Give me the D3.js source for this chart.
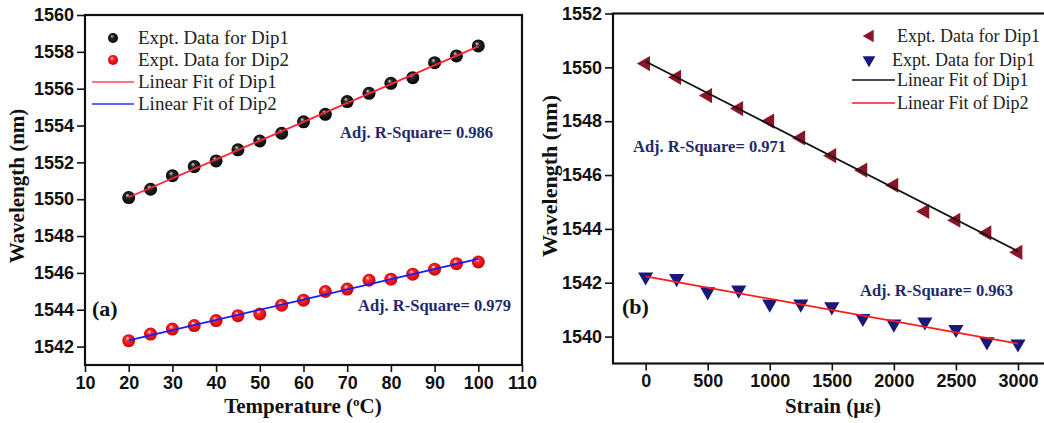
<!DOCTYPE html>
<html>
<head>
<meta charset="utf-8">
<script src="https://cdn.jsdelivr.net/npm/d3@7"></script>
<style>
  body { margin: 0; background: #fff; }
  svg { display: block; }
  .tick text { font-family: "Liberation Sans", Arial, sans-serif; font-weight: bold; font-size: 18px; fill: #111; }
  .tick line { stroke: #111; stroke-width: 1.6; }
  .domain { stroke: none; }
  .serif { font-family: "Liberation Serif", "Times New Roman", serif; }
</style>
</head>
<body>
<div id="canvas"></div>
<script>
// ---- data ----
// panel (a): temperature sweep
var temps = [20, 25, 30, 35, 40, 45, 50, 55, 60, 65, 70, 75, 80, 85, 90, 95, 100];
var tempDip1 = [1550.09, 1550.54, 1551.28, 1551.77, 1552.08, 1552.68, 1553.16, 1553.58, 1554.2, 1554.61,
                1555.3, 1555.75, 1556.29, 1556.6, 1557.41, 1557.78, 1558.32];
var tempDip2 = [1542.32, 1542.68, 1542.95, 1543.14, 1543.41, 1543.68, 1543.77, 1544.25, 1544.52, 1544.99,
                1545.12, 1545.6, 1545.66, 1545.93, 1546.2, 1546.5, 1546.59];
var tempXTicks = [10, 20, 30, 40, 50, 60, 70, 80, 90, 100, 110];
var tempYTicks = [1542, 1544, 1546, 1548, 1550, 1552, 1554, 1556, 1558, 1560];

// panel (b): strain sweep
var strains = [0, 250, 500, 750, 1000, 1250, 1500, 1750, 2000, 2250, 2500, 2750, 3000];
var strainDip1 = [1550.14, 1549.63, 1548.95, 1548.47, 1548.0, 1547.38, 1546.72, 1546.18, 1545.62,
                  1544.65, 1544.32, 1543.85, 1543.13];
var strainDip2 = [1542.22, 1542.16, 1541.67, 1541.73, 1541.21, 1541.21, 1541.11, 1540.68, 1540.47,
                  1540.55, 1540.27, 1539.81, 1539.73];
var strainXTicks = [0, 500, 1000, 1500, 2000, 2500, 3000];
var strainYTicks = [1540, 1542, 1544, 1546, 1548, 1550, 1552];

var W = 1044, H = 423;

var svg = d3.select('#canvas').append('svg')
    .attr('width', W).attr('height', H);

// sphere gradients for the ball markers
var defs = svg.append('defs');
function ballGrad(id, light, mid, dark) {
    var g = defs.append('radialGradient').attr('id', id)
        .attr('cx', '50%').attr('cy', '50%').attr('r', '55%')
        .attr('fx', '38%').attr('fy', '30%');
    g.append('stop').attr('offset', '0%').attr('stop-color', light);
    g.append('stop').attr('offset', '30%').attr('stop-color', mid);
    g.append('stop').attr('offset', '100%').attr('stop-color', dark);
}
ballGrad('ballBlack', '#e0e0e0', '#2a2a2a', '#000');
ballGrad('ballRed', '#fff0f0', '#ff2a2a', '#c00000');

// simple least squares, used for the "Linear Fit" lines
function linFit(xs, ys) {
    var n = xs.length, mx = d3.mean(xs), my = d3.mean(ys);
    var sxy = 0, sxx = 0;
    for (var i = 0; i < n; i++) { sxy += (xs[i] - mx) * (ys[i] - my); sxx += (xs[i] - mx) * (xs[i] - mx); }
    var b = sxy / sxx, a = my - b * mx;
    return function(x) { return a + b * x; };
}

function frame(g, x, y) {
    var x0 = x.range()[0], x1 = x.range()[1], y0 = y.range()[0], y1 = y.range()[1];
    g.append('rect')
        .attr('x', x0).attr('y', y1).attr('width', x1 - x0).attr('height', y0 - y1)
        .attr('fill', 'none').attr('stroke', '#111').attr('stroke-width', 2.2);
}

function axes(g, x, y, xt, yt) {
    g.append('g').attr('transform', 'translate(0,' + y.range()[0] + ')')
        .call(d3.axisBottom(x).tickValues(xt).tickFormat(d3.format('d'))
            .tickSize(7).tickPadding(4).tickSizeOuter(0));
    g.append('g').attr('transform', 'translate(' + x.range()[0] + ',0)')
        .call(d3.axisLeft(y).tickValues(yt).tickFormat(d3.format('d'))
            .tickSize(8).tickPadding(3).tickSizeOuter(0));
}

function label(g, txt, px, py, size, weight, color) {
    return g.append('text').attr('class', 'serif')
        .attr('x', px).attr('y', py)
        .style('font-size', size + 'px').style('font-weight', weight)
        .style('fill', color).text(txt);
}

// ================= panel (a) =================
var xA = d3.scaleLinear().domain([10, 110]).range([85, 522]);
var yA = d3.scaleLinear().domain([1541, 1560]).range([365, 15]);
var gA = svg.append('g');

axes(gA, xA, yA, tempXTicks, tempYTicks);

var fitA1 = linFit(temps, tempDip1), fitA2 = linFit(temps, tempDip2);
var lineA = d3.line().x(function(d){ return xA(d[0]); }).y(function(d){ return yA(d[1]); });
var ends = [temps[0], temps[temps.length - 1]];

gA.selectAll('.ball1').data(temps).enter().append('circle')
    .attr('cx', function(d){ return xA(d); })
    .attr('cy', function(d, i){ return yA(tempDip1[i]); })
    .attr('r', 6.5).attr('fill', 'url(#ballBlack)');
gA.selectAll('.ball2').data(temps).enter().append('circle')
    .attr('cx', function(d){ return xA(d); })
    .attr('cy', function(d, i){ return yA(tempDip2[i]); })
    .attr('r', 6.5).attr('fill', 'url(#ballRed)');

gA.append('path').datum(ends.map(function(t){ return [t, fitA1(t)]; }))
    .attr('d', lineA).attr('stroke', '#ff2438').attr('stroke-width', 1.8).attr('fill', 'none');
gA.append('path').datum(ends.map(function(t){ return [t, fitA2(t)]; }))
    .attr('d', lineA).attr('stroke', '#1a1aff').attr('stroke-width', 1.8).attr('fill', 'none');

frame(gA, xA, yA);

// legend (a)
gA.append('circle').attr('cx', 113).attr('cy', 38).attr('r', 5).attr('fill', 'url(#ballBlack)');
gA.append('circle').attr('cx', 113).attr('cy', 60).attr('r', 5).attr('fill', 'url(#ballRed)');
gA.append('line').attr('x1', 92).attr('x2', 134).attr('y1', 82).attr('y2', 82)
    .attr('stroke', '#ff4a5a').attr('stroke-width', 1.6);
gA.append('line').attr('x1', 92).attr('x2', 134).attr('y1', 104).attr('y2', 104)
    .attr('stroke', '#3030ff').attr('stroke-width', 1.6);
label(gA, 'Expt. Data for Dip1', 138, 44, 19, 'normal', '#222');
label(gA, 'Expt. Data for Dip2', 138, 66, 19, 'normal', '#222');
label(gA, 'Linear Fit of Dip1', 138, 88, 19, 'normal', '#222');
label(gA, 'Linear Fit of Dip2', 138, 110, 19, 'normal', '#222');

label(gA, 'Adj. R-Square= 0.986', 340, 138, 16.5, 'bold', '#1f2a6b');
label(gA, 'Adj. R-Square= 0.979', 358, 311, 16.5, 'bold', '#1f2a6b');
label(gA, '(a)', 92, 316, 22, 'bold', '#111');

// axis titles (a)
var tA = label(gA, 'Temperature (', 303, 413, 21, 'bold', '#111').attr('text-anchor', 'middle');
tA.append('tspan').attr('baseline-shift', 'super').style('font-size', '13px').text('o');
tA.append('tspan').text('C)');
label(gA, 'Wavelength (nm)', 0, 0, 21, 'bold', '#111')
    .attr('text-anchor', 'middle')
    .attr('transform', 'translate(24,186) rotate(-90)');

// ================= panel (b) =================
var xB = d3.scaleLinear().domain([-263, 3250]).range([613, 1049]);
var yB = d3.scaleLinear().domain([1539, 1552]).range([363.5, 13.5]);
var gB = svg.append('g');

axes(gB, xB, yB, strainXTicks, strainYTicks);

var fitB1 = linFit(strains, strainDip1), fitB2 = linFit(strains, strainDip2);
var lineB = d3.line().x(function(d){ return xB(d[0]); }).y(function(d){ return yB(d[1]); });
var endsB = [strains[0], strains[strains.length - 1]];

var triMark = d3.symbol().type(d3.symbolTriangle).size(100);
gB.selectAll('.tri1').data(strains).enter().append('path')
    .attr('d', triMark)
    .attr('transform', function(d, i){ return 'translate(' + xB(d) + ',' + yB(strainDip1[i]) + ') rotate(-90)'; })
    .attr('fill', '#8a1526');
gB.selectAll('.tri2').data(strains).enter().append('path')
    .attr('d', triMark)
    .attr('transform', function(d, i){ return 'translate(' + xB(d) + ',' + yB(strainDip2[i]) + ') rotate(180)'; })
    .attr('fill', '#18187a');

gB.append('path').datum(endsB.map(function(s){ return [s, fitB1(s)]; }))
    .attr('d', lineB).attr('stroke', '#111').attr('stroke-width', 1.8).attr('fill', 'none');
gB.append('path').datum(endsB.map(function(s){ return [s, fitB2(s)]; }))
    .attr('d', lineB).attr('stroke', '#ff1a1a').attr('stroke-width', 1.8).attr('fill', 'none');

frame(gB, xB, yB);

// legend (b)
var triLeg = d3.symbol().type(d3.symbolTriangle).size(70);
gB.append('path').attr('d', triLeg).attr('transform', 'translate(870,36) rotate(-90)').attr('fill', '#8a1526');
gB.append('path').attr('d', triLeg).attr('transform', 'translate(869,60) rotate(180)').attr('fill', '#18187a');
gB.append('line').attr('x1', 852).attr('x2', 895).attr('y1', 80).attr('y2', 80)
    .attr('stroke', '#111').attr('stroke-width', 1.6);
gB.append('line').attr('x1', 852).attr('x2', 895).attr('y1', 103).attr('y2', 103)
    .attr('stroke', '#ff1a1a').attr('stroke-width', 1.6);
label(gB, 'Expt. Data for Dip1', 897, 42, 18, 'normal', '#222');
label(gB, 'Expt. Data for Dip1', 892, 66, 18, 'normal', '#222');
label(gB, 'Linear Fit of Dip1', 897, 86, 18, 'normal', '#222');
label(gB, 'Linear Fit of Dip2', 897, 109, 18, 'normal', '#222');

label(gB, 'Adj. R-Square= 0.971', 633, 152, 16.5, 'bold', '#1f2a6b');
label(gB, 'Adj. R-Square= 0.963', 860, 296, 16.5, 'bold', '#1f2a6b');
label(gB, '(b)', 622, 314, 22, 'bold', '#111');

// axis titles (b)
label(gB, 'Strain (\u03bc\u03b5)', 833, 413, 21, 'bold', '#111').attr('text-anchor', 'middle');
label(gB, 'Wavelength (nm)', 0, 0, 22, 'bold', '#111')
    .attr('text-anchor', 'middle')
    .attr('transform', 'translate(557,176) rotate(-90)');
</script>
</body>
</html>
